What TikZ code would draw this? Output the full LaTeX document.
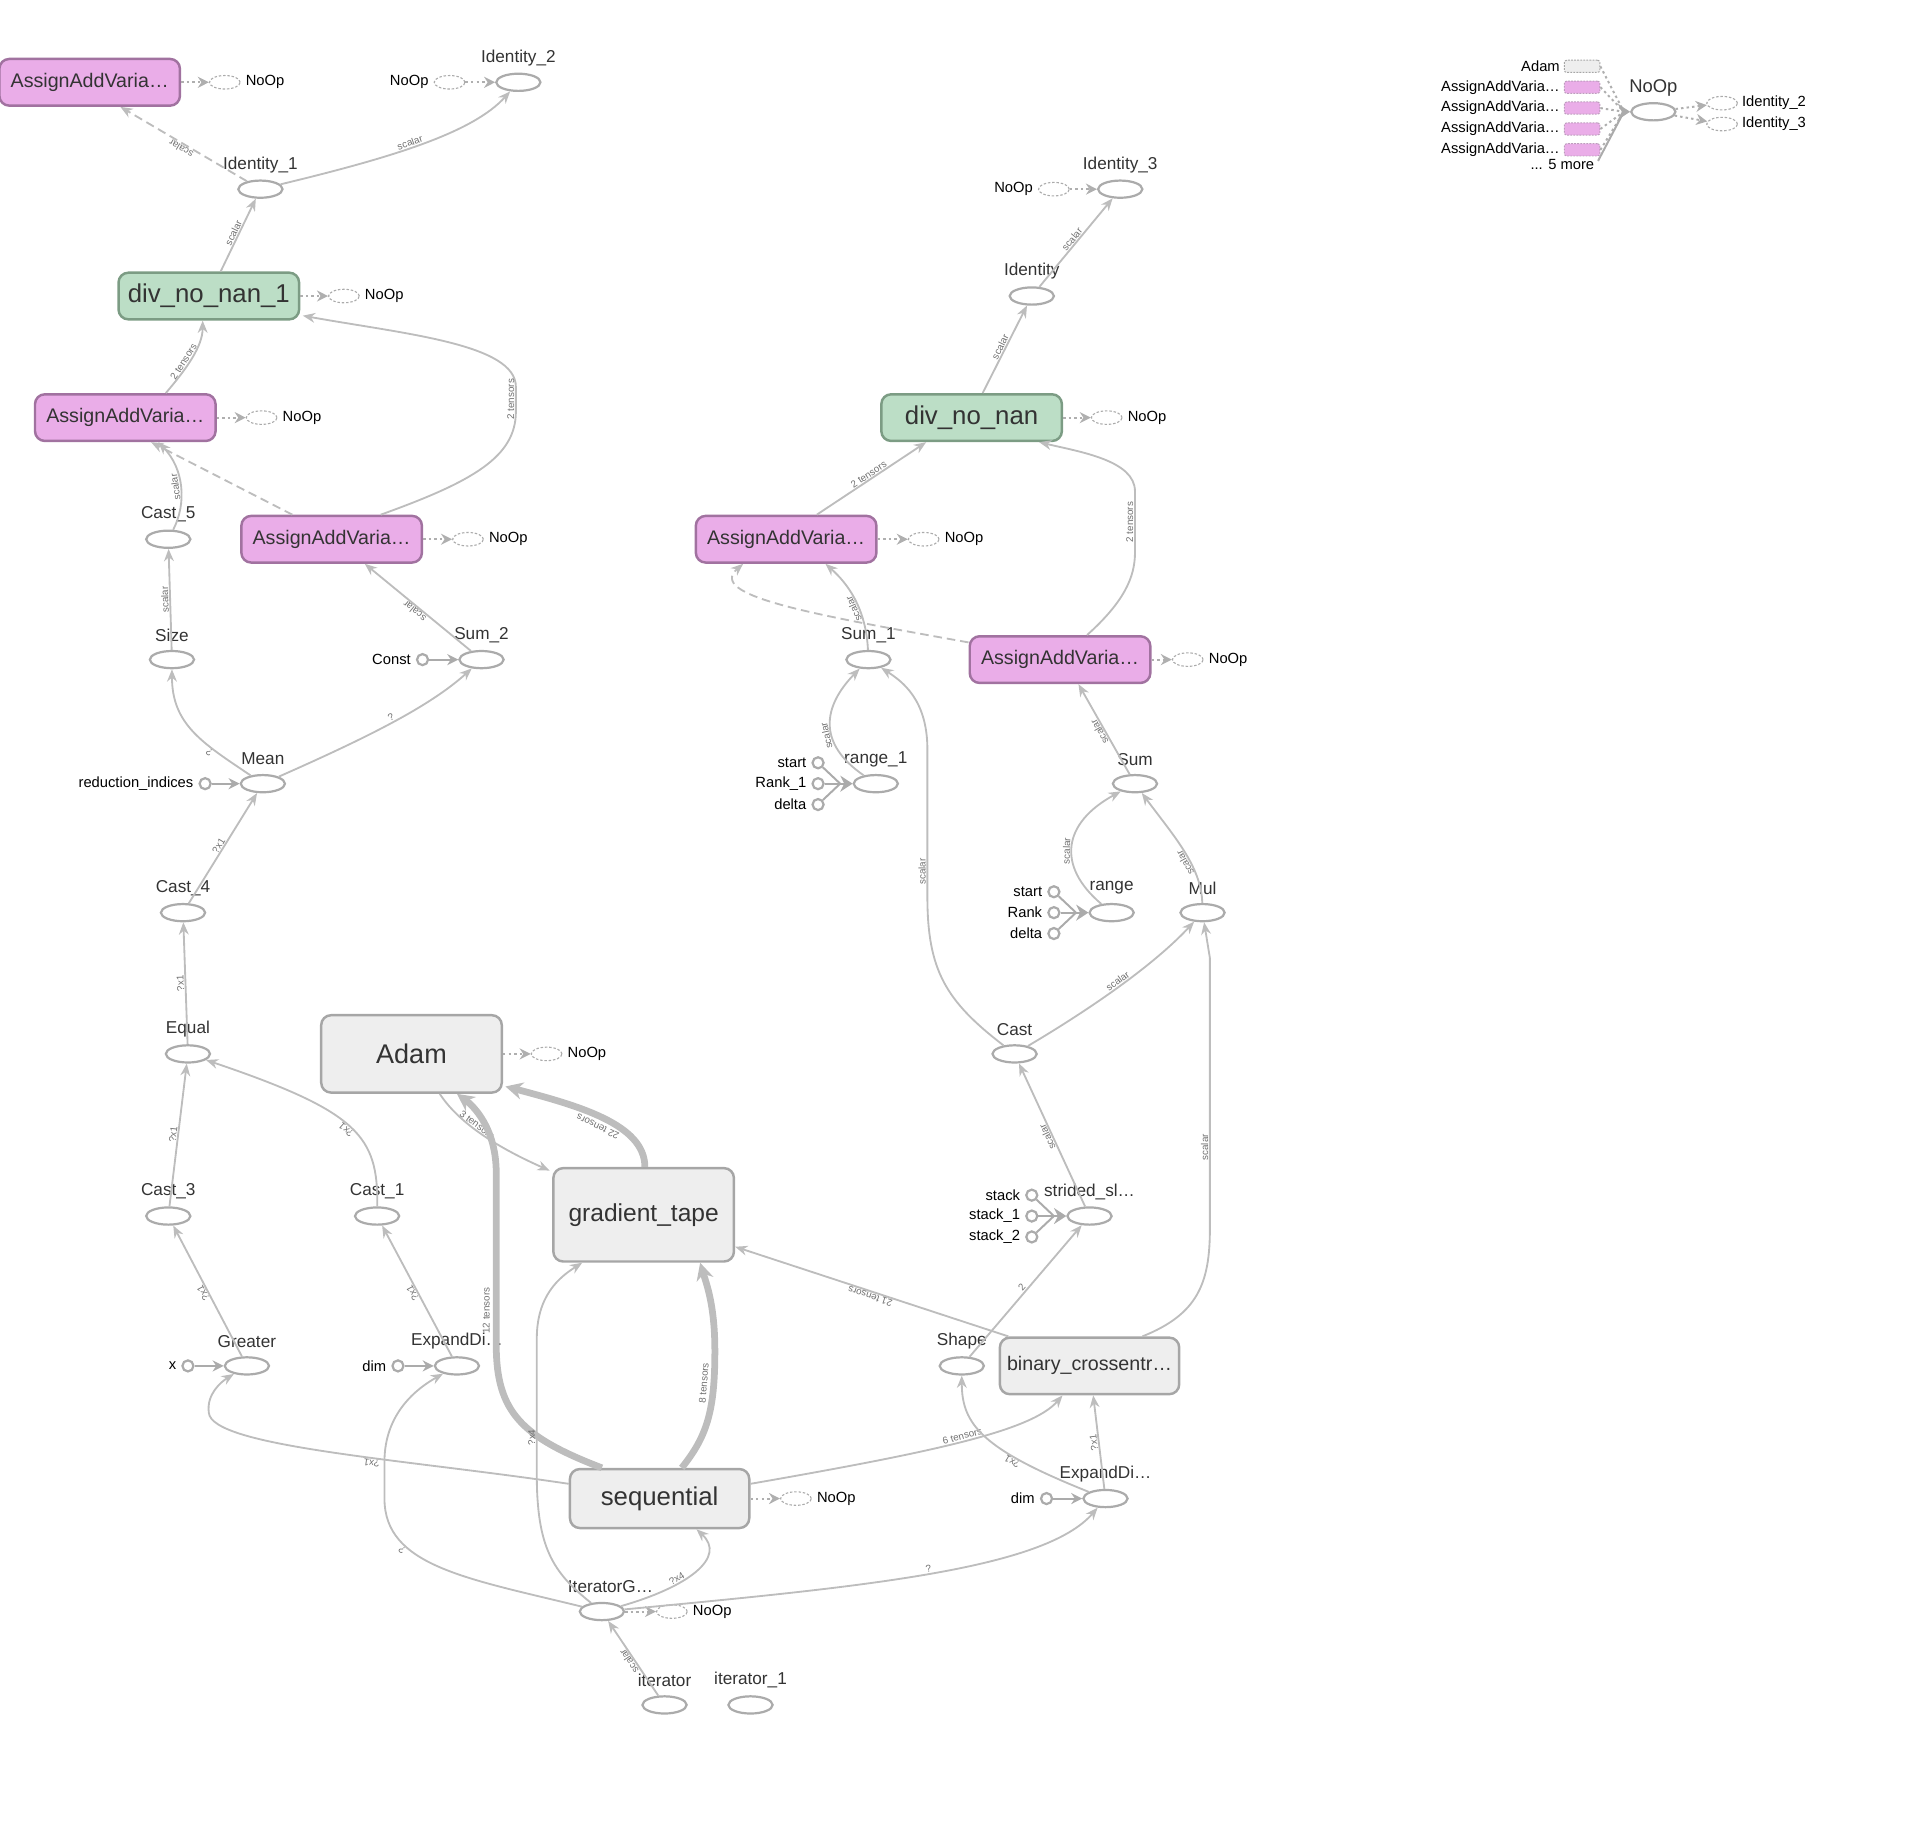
\documentclass[tikz,border=0pt]{standalone}
\usepackage{fontspec}
\setmainfont{Liberation Sans}
\usetikzlibrary{arrows.meta,shapes.geometric}
\definecolor{edgec}{HTML}{BDBDBD}
\definecolor{opc}{HTML}{ABABAB}
\definecolor{ctrlc}{HTML}{AFAFAF}
\definecolor{pinkf}{HTML}{EAADE8}
\definecolor{pinkd}{HTML}{A172A0}
\definecolor{greenf}{HTML}{BCDEC6}
\definecolor{greend}{HTML}{7C9C84}
\definecolor{grayf}{HTML}{EEEEEE}
\definecolor{grayd}{HTML}{A6A6A6}
\definecolor{lblc}{HTML}{333333}
\definecolor{elabc}{HTML}{707070}
\newcommand{\OpN}[4]{\node[opn] (#1) at (#2,#3) {}; \node[oplbl] (#1-l) at (#2,#3-20) {#4};}
\newcommand{\InC}[4]{\node[inc] (#1) at (#2,#3) {}; \node[inlbl,anchor=east] (#1-t) at ([xshift=-4pt]#1.west) {#4};}
\newcommand{\NoR}[3]{\node[noopn] (#1) at (#2,#3) {}; \node[inlbl,anchor=west] (#1-t) at ([xshift=4pt]#1.east) {NoOp};}
\newcommand{\NoL}[3]{\node[noopn] (#1) at (#2,#3) {}; \node[inlbl,anchor=east] (#1-t) at ([xshift=-4pt]#1.west) {NoOp};}
\begin{document}
\begin{tikzpicture}[x=1pt,y=-1pt,
  opn/.style={ellipse, draw=opc, line width=1.8pt, fill=white, minimum width=36pt, minimum height=14pt, inner sep=0pt},
  oplbl/.style={font=\fontsize{14}{16}\selectfont, text=lblc, inner sep=0pt},
  inc/.style={circle, draw=opc, line width=1.8pt, fill=white, minimum size=9pt, inner sep=0pt},
  inlbl/.style={font=\fontsize{12}{14}\selectfont, text=black, inner sep=0pt},
  noopn/.style={ellipse, draw=opc, dash pattern=on 2pt off 1.5pt, line width=0.9pt, minimum width=25pt, minimum height=11pt, inner sep=0pt},
  box/.style={rectangle, rounded corners=8pt, line width=2pt, minimum width=147pt, minimum height=38pt, inner sep=0pt, text=lblc},
  pinkbox/.style={box, fill=pinkf, draw=pinkd, font=\fontsize{16}{18}\selectfont},
  greenbox/.style={box, fill=greenf, draw=greend, font=\fontsize{21}{24}\selectfont},
  graybox/.style={box, fill=grayf, draw=grayd},
  edge/.style={draw=edgec, line width=1.5pt, -{Stealth[length=10pt,width=8pt]}},
  dedge/.style={edge, dash pattern=on 7pt off 4pt},
  thickedge/.style={draw=edgec, line width=5.5pt, -{Stealth[length=14pt,width=14pt]}},
  ctrl/.style={draw=ctrlc, line width=1.6pt, dash pattern=on 2pt off 2.5pt, -{Stealth[length=9pt,width=9pt]}},
  inarr/.style={draw=opc, line width=1.6pt, -{Stealth[length=9pt,width=9pt]}},
  inline/.style={draw=opc, line width=1.6pt},
  bigtip/.style={draw=opc, line width=1.6pt, -{Stealth[length=10pt,width=13pt]}},
  lrect/.style={rectangle, rounded corners=2pt, draw=pinkd!70, dash pattern=on 1.5pt off 1pt, line width=0.8pt, minimum width=29pt, minimum height=10pt, inner sep=0pt},
  elab/.style={font=\fontsize{8}{9}\selectfont, text=elabc, sloped, allow upside down, above, inner sep=0.6pt}
]
\useasboundingbox (0,0) rectangle (1568,1493);

% ---------- left column top ----------
\node[pinkbox] (aav1) at (73,67) {AssignAddVaria…};
\NoR{naav1}{183}{67}
\OpN{id2}{422}{67}{Identity\_2}
\NoL{nid2}{366}{67}
\OpN{id1}{212}{154}{Identity\_1}
\node[greenbox] (dnn1) at (170,241) {div\_no\_nan\_1};
\NoR{ndnn1}{280}{241}
\node[pinkbox] (aav2) at (102,340) {AssignAddVaria…};
\NoR{naav2}{213}{340}
\node[pinkbox] (aav3) at (270,439) {AssignAddVaria…};
\NoR{naav3}{381}{439}
\OpN{cast5}{137}{439}{Cast\_5}
\OpN{size}{140}{537}{Size}
\OpN{sum2}{392}{537}{Sum\_2}
\InC{const}{344}{537}{Const}
\OpN{mean}{214}{638}{Mean}
\InC{ri}{167}{638}{reduction\_indices}
\OpN{cast4}{149}{743}{Cast\_4}
\OpN{equal}{153}{858}{Equal}
\OpN{cast3}{137}{990}{Cast\_3}
\OpN{cast1}{307}{990}{Cast\_1}
\OpN{greater}{201}{1112}{Greater}
\InC{xin}{153}{1112}{x}
\OpN{expL}{372}{1112}{ExpandDi…}
\InC{dimL}{324}{1112}{dim}

% ---------- bottom middle ----------
\node[graybox, minimum height=63pt, font=\fontsize{22}{24}\selectfont] (adam) at (335,858) {Adam};
\NoR{nadam}{445}{858}
\node[graybox, minimum height=76pt, font=\fontsize{20}{22}\selectfont] (gt) at (524,989) {gradient\_tape};
\node[graybox, minimum width=146pt, minimum height=48pt, font=\fontsize{21}{23}\selectfont] (seq) at (537,1220) {sequential};
\NoR{nseq}{648}{1220}
\node[graybox, minimum width=146pt, minimum height=46pt, font=\fontsize{16}{18}\selectfont] (bin) at (887,1112) {binary\_crossentr…};
\OpN{shape}{783}{1112}{Shape}
\OpN{expR}{900}{1220}{ExpandDi…}
\InC{dimR}{852}{1220}{dim}
\node[opn] (iterG) at (490,1312) {};
\node[oplbl] (iterG-l) at (497,1292) {IteratorG…};
\NoR{niterG}{547}{1312}
\OpN{iterator}{541}{1388}{iterator}
\OpN{iterator1}{611}{1388}{iterator\_1}

% ---------- right column ----------
\OpN{strided}{887}{990}{strided\_sl…}
\InC{stk}{840}{973}{stack}
\InC{stk1}{840}{990}{stack\_1}
\InC{stk2}{840}{1007}{stack\_2}
\coordinate (sj) at (858,990);
\OpN{cast}{826}{858}{Cast}
\OpN{mul}{979}{743}{Mul}
\OpN{range}{905}{743}{range}
\InC{rs}{858}{726}{start}
\InC{rr}{858}{743}{Rank}
\InC{rd}{858}{760}{delta}
\coordinate (rj) at (876,743);
\OpN{sum}{924}{638}{Sum}
\node[pinkbox] (aav5) at (863,537) {AssignAddVaria…};
\NoR{naav5}{967}{537}
\OpN{range1}{713}{638}{range\_1}
\InC{r1s}{666}{621}{start}
\InC{r1r}{666}{638}{Rank\_1}
\InC{r1d}{666}{655}{delta}
\coordinate (r1j) at (684,638);
\OpN{sum1}{707}{537}{Sum\_1}
\node[pinkbox] (aav4) at (640,439) {AssignAddVaria…};
\NoR{naav4}{752}{439}
\node[greenbox] (dnn) at (791,340) {div\_no\_nan};
\NoR{ndnn}{901}{340}
\OpN{identity}{840}{241}{Identity}
\OpN{id3}{912}{154}{Identity\_3}
\NoL{nid3}{858}{154}

% ---------- legend ----------
\node[lrect, fill=grayf, draw=grayd] (lga) at (1288,54) {};
\node[inlbl, anchor=east] (lgat) at (1270,54) {Adam};
\foreach \i/\yy in {1/71,2/88,3/105,4/122} {
  \node[lrect, fill=pinkf] (lg\i) at (1288,\yy) {};
  \node[inlbl, anchor=east] (lgt\i) at (1270,\yy) {AssignAddVaria…};
}
\node[inlbl, anchor=east] (lmore) at (1298,134) {... 5 more};
\node[opn] (lnoop) at (1346,91) {};
\node[oplbl, font=\fontsize{15}{17}\selectfont] (lnoop-l) at (1346,72) {NoOp};
\coordinate (lj) at (1322,91);
\node[noopn] (lid2) at (1402,84) {};
\node[inlbl, anchor=west] (lid2t) at (1418,84) {Identity\_2};
\node[noopn] (lid3) at (1402,101) {};
\node[inlbl, anchor=west] (lid3t) at (1418,101) {Identity\_3};
\draw[ctrl, -] (lga.east) -- (lj);
\foreach \i in {1,2,3,4} {\draw[ctrl, -] (lg\i.east) -- (lj);}
\draw[inline] ([xshift=3pt,yshift=3pt]lmore.east) -- (lj);
\draw[bigtip] (lj) -- (lnoop);
\draw[ctrl] (lnoop) -- (lid2);
\draw[ctrl] (lnoop) -- (lid3);

% ---------- control edges ----------
\draw[ctrl] (aav1) -- (naav1);
\draw[ctrl] (nid2) -- (id2);
\draw[ctrl] (dnn1) -- (ndnn1);
\draw[ctrl] (aav2) -- (naav2);
\draw[ctrl] (aav3) -- (naav3);
\draw[ctrl] (adam) -- (nadam);
\draw[ctrl] (seq) -- (nseq);
\draw[ctrl] (iterG) -- (niterG);
\draw[ctrl] (aav4) -- (naav4);
\draw[ctrl] (aav5) -- (naav5);
\draw[ctrl] (dnn) -- (ndnn);
\draw[ctrl] (nid3) -- (id3);

% ---------- input edges ----------
\draw[inarr] (const) -- (sum2);
\draw[inarr] (ri) -- (mean);
\draw[inarr] (xin) -- (greater);
\draw[inarr] (dimL) -- (expL);
\draw[inarr] (dimR) -- (expR);
\foreach \c in {stk,stk1,stk2} {\draw[inline] (\c) -- (sj);}
\draw[bigtip] (sj) -- (strided);
\foreach \c in {rs,rr,rd} {\draw[inline] (\c) -- (rj);}
\draw[bigtip] (rj) -- (range);
\foreach \c in {r1s,r1r,r1d} {\draw[inline] (\c) -- (r1j);}
\draw[bigtip] (r1j) -- (range1);

% ---------- data edges, left ----------
\draw[edge] (id1) .. controls (320,128) and (385,108) .. (id2) node[elab,pos=0.45]{scalar};
\draw[dedge] (id1) -- ([xshift=25pt]aav1.south) node[elab,pos=0.5]{scalar};
\draw[edge] (dnn1) -- (id1) node[elab,pos=0.5]{scalar};
\draw[edge] ([xshift=33pt]aav2.north) .. controls (152,300) and (165,282) .. ([xshift=-5pt]dnn1.south) node[elab,pos=0.4]{2 tensors};
\draw[edge] ([xshift=40pt]aav3.north) .. controls (385,392) and (420,372) .. (420,335) -- (420,315) node[elab,midway]{2 tensors} .. controls (420,280) and (330,272) .. ([xshift=2pt,yshift=4pt]dnn1.south east);
\draw[edge] (cast5) .. controls (152,410) and (150,382) .. ([xshift=27pt]aav2.south) node[elab,pos=0.5]{scalar};
\draw[dedge] ([xshift=-32pt]aav3.north) -- ([xshift=21pt]aav2.south);
\draw[edge] (size) -- (cast5) node[elab,midway]{scalar};
\draw[edge] (sum2) -- ([xshift=27pt]aav3.south) node[elab,midway]{scalar};
\draw[edge] (mean) .. controls (165,605) and (140,590) .. (size) node[elab,pos=0.3]{?};
\draw[edge] (mean) .. controls (300,600) and (350,575) .. (sum2) node[elab,pos=0.5]{?};
\draw[edge] (cast4) -- (mean) node[elab,midway]{?x1};
\draw[edge] (equal) -- (cast4) node[elab,midway]{?x1};
\draw[edge] (cast3) -- (equal) node[elab,midway]{?x1};
\draw[edge] (cast1) .. controls (308,925) and (292,905) .. (equal) node[elab,pos=0.5]{?x1};
\draw[edge] (greater) -- (cast3) node[elab,midway]{?x1};
\draw[edge] (expL) -- (cast1) node[elab,midway]{?x1};

% ---------- data edges, bottom ----------
\draw[edge] ([xshift=23pt]adam.south) .. controls (372,912) and (400,932) .. ([xshift=-2pt,yshift=-3pt]gt.north west) node[elab,pos=0.45]{3 tensors};
\draw[thickedge] ([xshift=1pt]gt.north) .. controls (525,915) and (470,900) .. ([xshift=2pt,yshift=6pt]adam.south east) node[elab,pos=0.5,yshift=2pt]{22 tensors};
\draw[thickedge] ([xshift=-47pt]seq.north) .. controls (425,1170) and (404,1150) .. (404,1095) -- (404,955) node[elab,pos=0.2,yshift=2pt]{12 tensors} .. controls (404,918) and (385,900) .. ([xshift=37pt]adam.south);
\draw[thickedge] ([xshift=18pt]seq.north) .. controls (575,1170) and (582,1150) .. (582,1100) node[elab,pos=0.8,yshift=2pt]{8 tensors} .. controls (582,1062) and (575,1045) .. ([xshift=46pt]gt.south);
\draw[edge] ([xshift=8pt]bin.north west) -- ([yshift=13pt]gt.south east) node[elab,midway]{21 tensors};
\draw[edge] ([yshift=12pt]seq.east) .. controls (760,1182) and (840,1165) .. ([xshift=-22pt]bin.south) node[elab,pos=0.5]{6 tensors};
\draw[edge] ([yshift=12pt]seq.west) .. controls (330,1188) and (172,1178) .. (170,1150) node[elab,pos=0.4]{?x1} .. controls (168,1135) and (180,1125) .. (greater);
\draw[edge] (iterG) .. controls (380,1285) and (313,1275) .. (313,1220) node[elab,pos=0.7]{?} -- (313,1190) .. controls (313,1150) and (340,1130) .. (expL);
\draw[edge] (iterG) .. controls (450,1280) and (437,1260) .. (437,1200) -- (437,1090) node[elab,pos=0.27]{?x4} .. controls (437,1055) and (455,1040) .. ([xshift=-50pt]gt.south);
\draw[edge] (iterG) .. controls (560,1292) and (592,1268) .. ([xshift=30pt]seq.south) node[elab,pos=0.35]{?x4};
\draw[edge] (iterG) .. controls (700,1292) and (850,1278) .. (expR) node[elab,pos=0.5]{?};
\draw[edge] (iterator) -- (iterG) node[elab,midway]{scalar};

% ---------- data edges, right ----------
\draw[edge] (expR) .. controls (800,1180) and (783,1160) .. (shape) node[elab,pos=0.3]{?x1};
\draw[edge] (expR) -- ([xshift=3pt]bin.south) node[elab,midway]{?x1};
\draw[edge] (shape) -- (strided) node[elab,midway]{2};
\draw[edge] (strided) -- (cast) node[elab,midway]{scalar};
\draw[edge] ([xshift=43pt]bin.north) .. controls (975,1070) and (985,1045) .. (985,1000) -- (985,780) node[elab,pos=0.3]{scalar} -- (mul);
\draw[edge] (cast) .. controls (890,820) and (940,785) .. (mul) node[elab,pos=0.5]{scalar};
\draw[edge] (cast) .. controls (770,815) and (755,790) .. (755,730) -- (755,610) node[elab,pos=0.17]{scalar} .. controls (755,570) and (735,555) .. (sum1);
\draw[edge] (range) .. controls (860,705) and (865,670) .. (sum) node[elab,pos=0.45]{scalar};
\draw[edge] (mul) .. controls (978,705) and (955,680) .. (sum) node[elab,pos=0.4]{scalar};
\draw[edge] (sum) -- ([xshift=15pt]aav5.south) node[elab,midway]{scalar};
\draw[edge] (range1) .. controls (665,605) and (670,575) .. (sum1) node[elab,pos=0.4]{scalar};
\draw[edge] (sum1) .. controls (705,495) and (690,475) .. ([xshift=32pt]aav4.south) node[elab,pos=0.4]{scalar};
\draw[dedge] ([yshift=-6pt]aav5.north west) .. controls (660,500) and (575,485) .. ([xshift=-35pt]aav4.south);
\draw[edge] ([xshift=25pt]aav4.north) -- ([xshift=-37pt]dnn.south) node[elab,midway]{2 tensors};
\draw[edge] ([xshift=22pt]aav5.north) .. controls (915,490) and (924,470) .. (924,450) -- (924,400) node[elab,midway]{2 tensors} .. controls (924,375) and (880,368) .. ([xshift=55pt]dnn.south);
\draw[edge] ([xshift=9pt]dnn.north) -- (identity) node[elab,midway]{scalar};
\draw[edge] (identity) -- (id3) node[elab,midway]{scalar};
\end{tikzpicture}
\end{document}
